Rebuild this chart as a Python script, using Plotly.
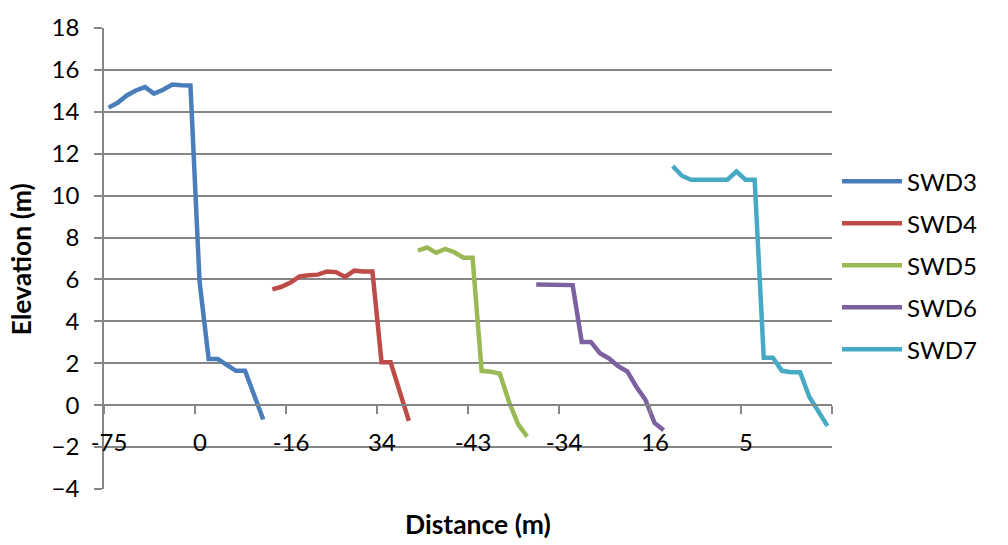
import plotly.graph_objects as go

# Elevation profiles along a shared category axis (80 categories, one segment per profile)
series_names = ["SWD3", "SWD4", "SWD5", "SWD6", "SWD7"]
series_colors = ["#4A7EBB", "#BE4B48", "#98B954", "#7D60A0", "#46AAC5"]

swd3_start = 0
swd3 = [14.2, 14.43, 14.78, 15.02, 15.18, 14.87, 15.05, 15.3, 15.27, 15.26,
        5.9, 2.2, 2.2, 1.95, 1.64, 1.64, 0.48, -0.68]

swd4_start = 18
swd4 = [5.53, 5.65, 5.85, 6.15, 6.2, 6.23, 6.38, 6.35, 6.12, 6.42, 6.38, 6.38,
        2.05, 2.05, 0.65, -0.75]

swd5_start = 34
swd5 = [7.38, 7.53, 7.27, 7.46, 7.3, 7.04, 7.04, 1.64, 1.6, 1.5, 0.17, -0.9, -1.5]

swd6_start = 47
swd6 = [5.76, 5.75, 5.75, 5.74, 5.73, 3.02, 3.02, 2.48, 2.23, 1.86, 1.61, 0.88,
        0.26, -0.85, -1.2]

swd7_start = 62
swd7 = [11.41, 10.95, 10.76, 10.76, 10.71, 10.71, 10.76, 11.15, 10.76, 10.76,
        2.26, 2.26, 1.64, 1.57, 1.57, 0.4, -0.29, -0.99]

n_categories = 80
tick_every = 10
tick_labels = ["-75", "0", "-16", "34", "-43", "-34", "16", "5"]

series_values = [swd3, swd4, swd5, swd6, swd7]
series_starts = [swd3_start, swd4_start, swd5_start, swd6_start, swd7_start]

FONT = "Lato"
GRID = "#868686"

fig = go.Figure()
for name, color, start, vals in zip(series_names, series_colors, series_starts, series_values):
    fig.add_trace(go.Scatter(
        x=list(range(start, start + len(vals))),
        y=vals,
        mode="lines",
        name=name,
        line=dict(color=color, width=4.5),
        showlegend=False,
    ))

# tick marks sit on category boundaries; labels are centred on the category
boundaries = [i - 0.5 for i in range(0, n_categories + 1, tick_every)]
boundary_text = tick_labels + [""] * (len(boundaries) - len(tick_labels))

y_min, y_max = -4, 18
fig.update_layout(
    width=1008, height=545,
    margin=dict(l=104, r=176, t=17, b=56),
    paper_bgcolor="white", plot_bgcolor="white",
    font=dict(family=FONT, size=24, color="black"),
    xaxis=dict(
        range=[-0.5, n_categories - 0.5],
        tickmode="array", tickvals=boundaries, ticktext=boundary_text,
        ticklabelshift=5,
        ticks="outside", ticklen=8, tickwidth=1.5, tickcolor=GRID,
        showline=True, linecolor=GRID, linewidth=1.5,
        showgrid=False, zeroline=False,
        anchor="free", position=(0 - y_min) / (y_max - y_min),
        ticklabelstandoff=8,
        tickfont=dict(family=FONT, size=24),
    ),
    yaxis=dict(
        range=[y_min, y_max], dtick=2, tick0=0,
        ticks="outside", ticklen=8, tickwidth=1.5, tickcolor=GRID,
        showline=True, linecolor=GRID, linewidth=1.5,
        showgrid=True, gridcolor=GRID, gridwidth=1.5,
        zeroline=False,
        ticklabelstandoff=10,
        tickfont=dict(family=FONT, size=24),
    ),
)

# axis titles
fig.add_annotation(text="<b>Distance (m)</b>", xref="paper", yref="paper",
                   x=(478 - 104) / 728, y=-(525 - 489) / 472,
                   showarrow=False, font=dict(family=FONT, size=26.5),
                   xanchor="center", yanchor="middle")
fig.add_annotation(text="<b>Elevation (m)</b>", xref="paper", yref="paper",
                   x=-(104 - 21) / 728, y=(489 - 254) / 472, textangle=-90,
                   showarrow=False, font=dict(family=FONT, size=26.5),
                   xanchor="center", yanchor="middle")

# legend drawn at the right of the plot area
for k, (name, color) in enumerate(zip(series_names, series_colors)):
    py = 174 + 43 * k
    yp = (489 - py) / 472
    fig.add_shape(type="line", xref="paper", yref="paper",
                  x0=(842 - 104) / 728, x1=(902 - 104) / 728, y0=yp, y1=yp,
                  line=dict(color=color, width=4.5))
    fig.add_annotation(text=name, xref="paper", yref="paper",
                       x=(905 - 104) / 728, y=yp, showarrow=False,
                       xanchor="left", yanchor="middle",
                       font=dict(family=FONT, size=24))

fig.write_html("out.html")
